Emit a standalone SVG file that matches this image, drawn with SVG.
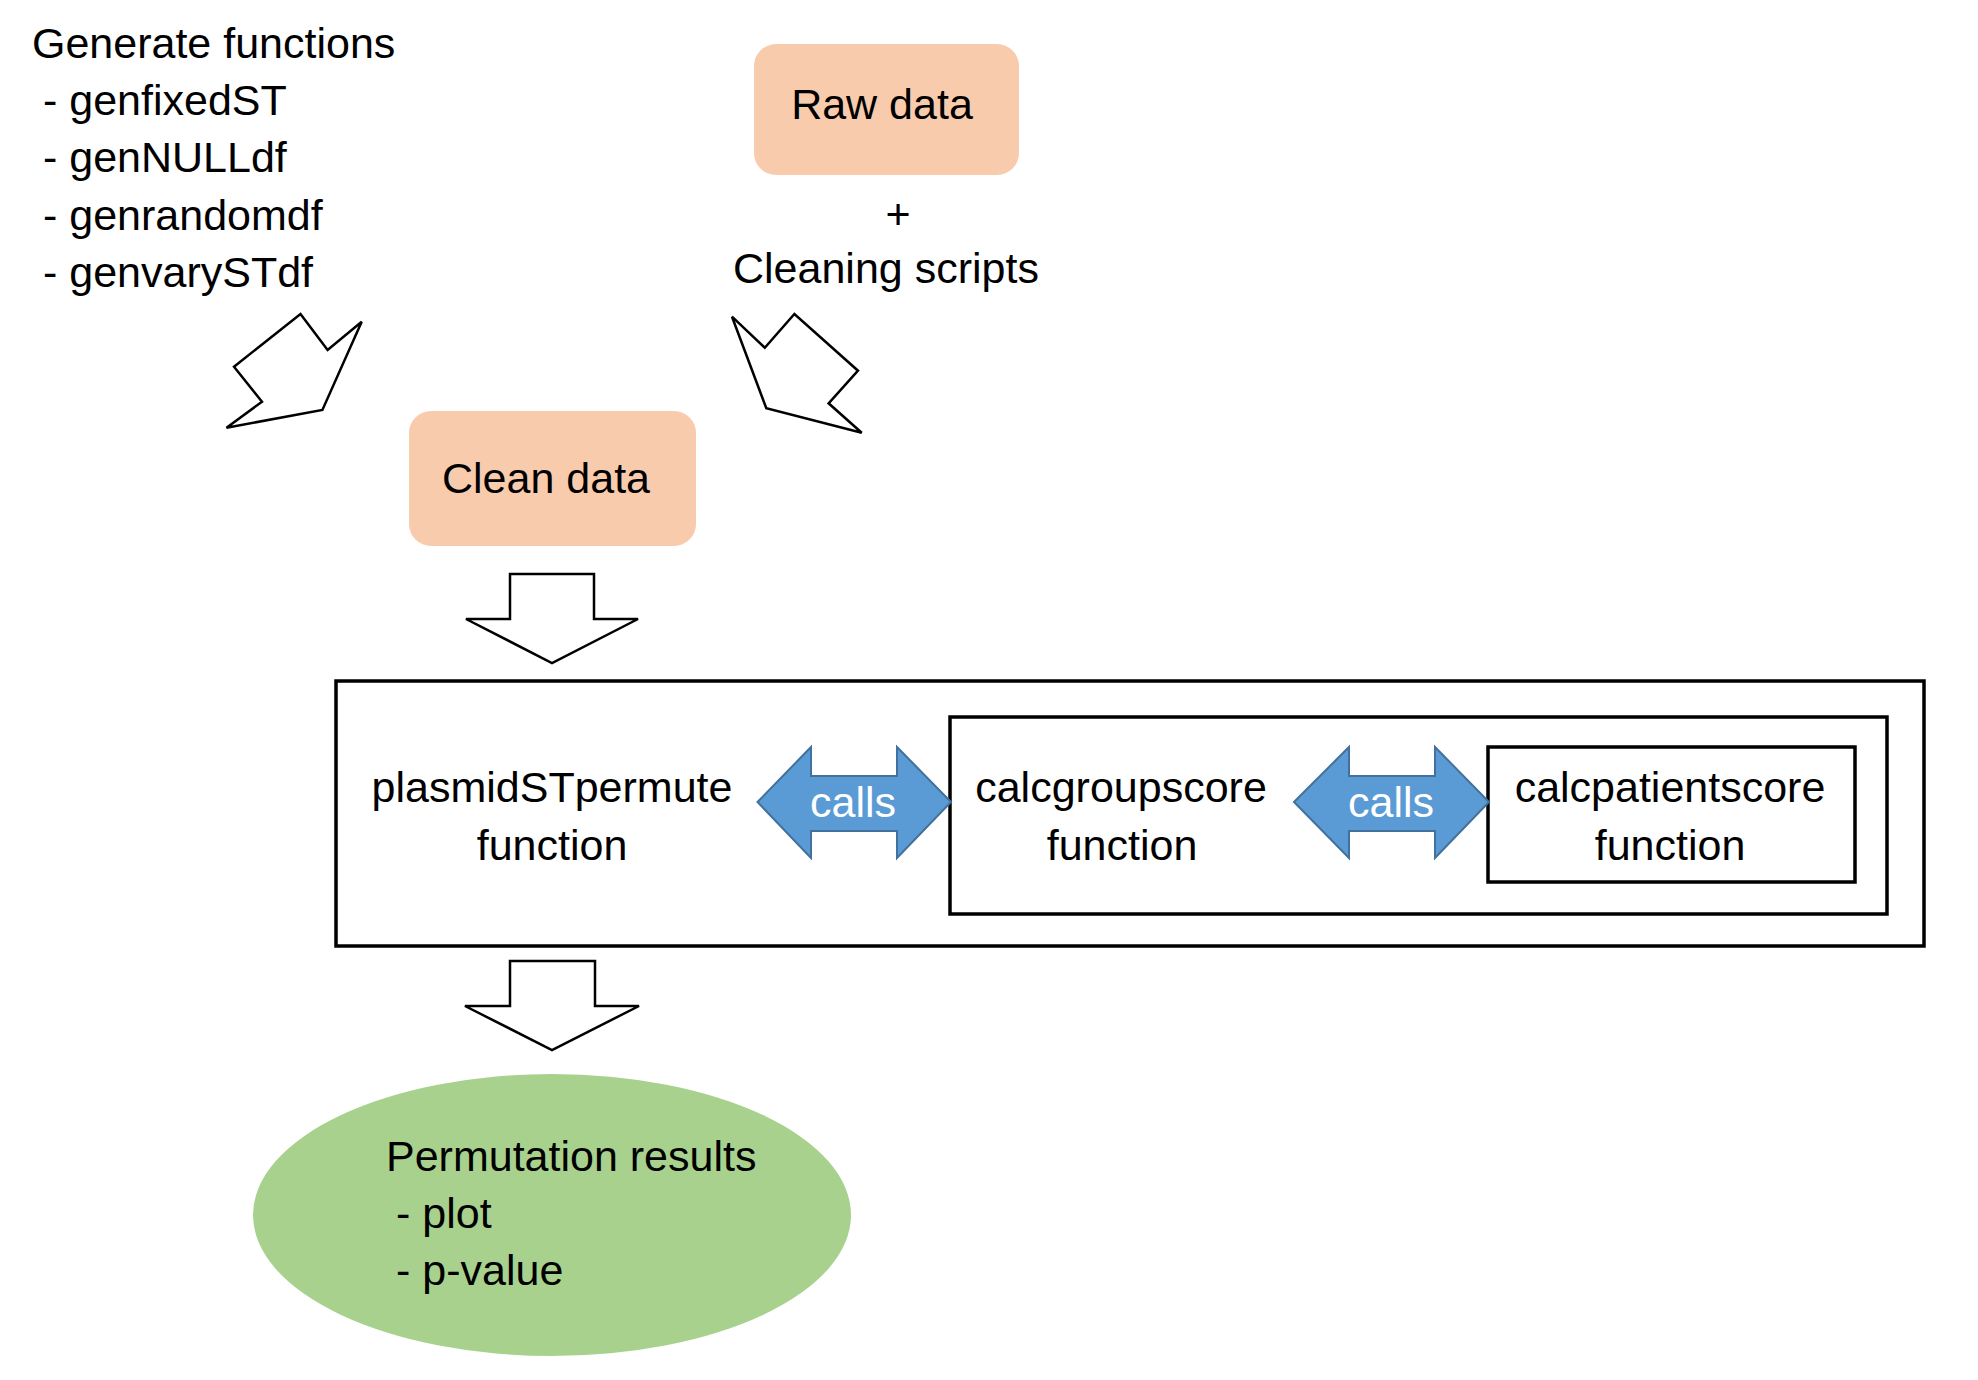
<svg xmlns="http://www.w3.org/2000/svg" width="1978" height="1380" viewBox="0 0 1978 1380">
<style>
  text { font-family: "Liberation Sans", Arial, sans-serif; font-size: 43px; fill: #000; }
  .c { text-anchor: middle; }
  .w { fill: #fff; }
  .hollow { fill: #fff; stroke: #000; stroke-width: 2.5; stroke-linejoin: miter; }
  .calls { fill: #5B9BD5; stroke: #41719C; stroke-width: 2; }
  .box { fill: none; stroke: #000; stroke-width: 3.5; }
  .peach { fill: #F8CBAD; }
</style>
<rect width="1978" height="1380" fill="#fff"/>

<g id="generate-functions">
  <text x="32" y="58">Generate functions</text>
  <text x="43" y="115">- genfixedST</text>
  <text x="43" y="172">- genNULLdf</text>
  <text x="43" y="230">- genrandomdf</text>
  <text x="43" y="287">- genvarySTdf</text>
</g>

<g id="raw-data">
  <rect class="peach" x="754" y="44" width="265" height="131" rx="22"/>
  <text class="c" x="882" y="119">Raw data</text>
</g>

<g id="cleaning-scripts">
  <text class="c" x="898" y="229">+</text>
  <text x="733" y="283">Cleaning scripts</text>
</g>

<g id="clean-data">
  <rect class="peach" x="409" y="411" width="287" height="135" rx="22"/>
  <text class="c" x="546" y="493">Clean data</text>
</g>

<g id="outer-box">
  <rect class="box" x="336" y="681" width="1588" height="265"/>
  <text class="c" x="552" y="802">plasmidSTpermute</text>
  <text class="c" x="552" y="860">function</text>
</g>

<g id="middle-box">
  <rect class="box" x="950" y="717" width="937" height="197"/>
  <text class="c" x="1121" y="802">calcgroupscore</text>
  <text class="c" x="1122" y="860">function</text>
</g>

<g id="inner-box">
  <rect class="box" x="1488" y="747" width="367" height="135"/>
  <text class="c" x="1670" y="802">calcpatientscore</text>
  <text class="c" x="1670" y="860">function</text>
</g>

<g id="permutation-results">
  <ellipse cx="552" cy="1215" rx="299" ry="141" fill="#A9D18E"/>
  <text x="386" y="1171">Permutation results</text>
  <text x="396" y="1228">- plot</text>
  <text x="396" y="1285">- p-value</text>
</g>

<g id="connectors">
  <polygon class="hollow" points="300.5,314 327.6,350 361.7,321.7 322.4,410 226.5,427.7 262,401.7 234,366.7"/>
  <polygon class="hollow" points="732,316.7 764.8,347.7 794.4,314 858,370.7 828.6,403.3 861.7,432.7 766.3,408.3"/>
  <polygon class="hollow" points="510,574 594,574 594,619 638,619 552,663 466,619 510,619"/>
  <polygon class="hollow" points="510,961 595,961 595,1006 639,1006 552,1050 465,1006 510,1006"/>
  <g id="calls-1">
    <polygon class="calls" points="757.5,802 811,747 811,776 897,776 897,747 951,802 897,858 897,831 811,831 811,858"/>
    <text class="c w" x="853" y="817">calls</text>
  </g>
  <g id="calls-2">
    <polygon class="calls" points="1294,802 1349,747 1349,776 1435,776 1435,747 1489,802 1435,858 1435,831 1349,831 1349,858"/>
    <text class="c w" x="1391" y="817">calls</text>
  </g>
</g>
</svg>
